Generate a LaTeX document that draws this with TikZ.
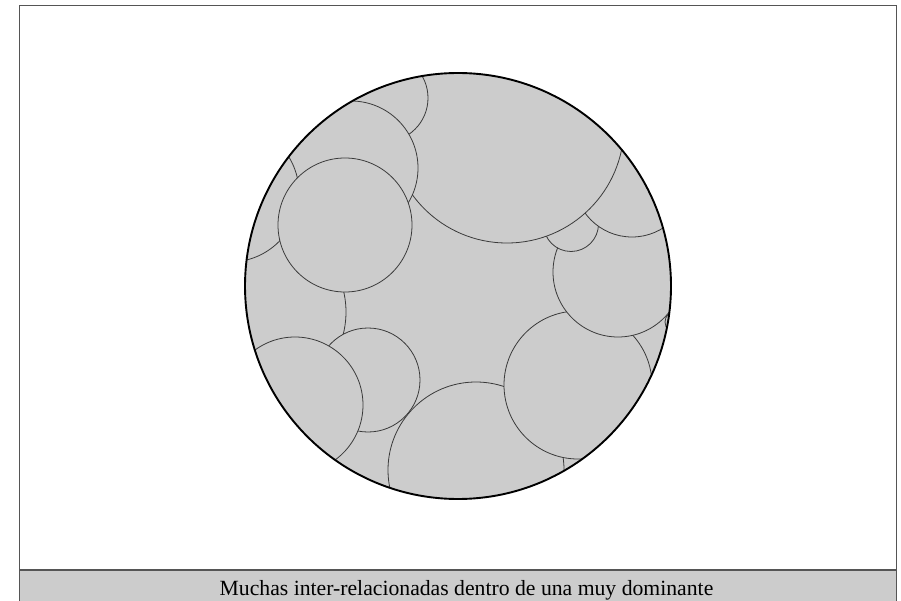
\documentclass[tikz,border=0pt]{standalone}
\usepackage{fontspec}
\setmainfont{Liberation Serif}
\definecolor{bubble}{HTML}{CCCCCC}
\definecolor{edgegray}{HTML}{3A3A3A}
\definecolor{framegray}{HTML}{555555}
\begin{document}
\begin{tikzpicture}[x=1pt,y=-1pt,
  bub/.style={fill=bubble,draw=edgegray,line width=0.8pt},
  outer/.style={draw=black,line width=1.9pt}]
\useasboundingbox (0,0) rectangle (901,601);
\fill[white] (0,0) rectangle (901,601);
% bottom caption bar
\fill[bubble] (19,570) rectangle (896,604);
\draw[framegray,line width=1pt] (19,604) -- (19,6) -- (896,6) -- (896,604);
\draw[framegray,line width=1.3pt] (19,570) -- (896,570);
\node[anchor=base,inner sep=0pt] (cap) at (466.5,595)
  {\fontsize{21.7}{24}\selectfont Muchas inter-relacionadas dentro de una muy dominante};
% bubbles inside the dominant circle
\coordinate (dom) at (458,286);
\begin{scope}
\clip (dom) circle[radius=213pt];
\fill[bubble] (dom) circle[radius=213pt];
\foreach \cx/\cy/\r in {476/470/88, 578/385/74, 618/272/65, 571/224/27.5,
  632/179/58, 507/126/117, 384/98/44, 351/168/67, 256/312/90, 230/193/69,
  345/225/67, 368/380/52, 295/405/68, 676/322/11}
  \draw[bub] (\cx,\cy) circle[radius=\r pt];
\end{scope}
\draw[outer] (dom) circle[radius=213pt];
\end{tikzpicture}
\end{document}
